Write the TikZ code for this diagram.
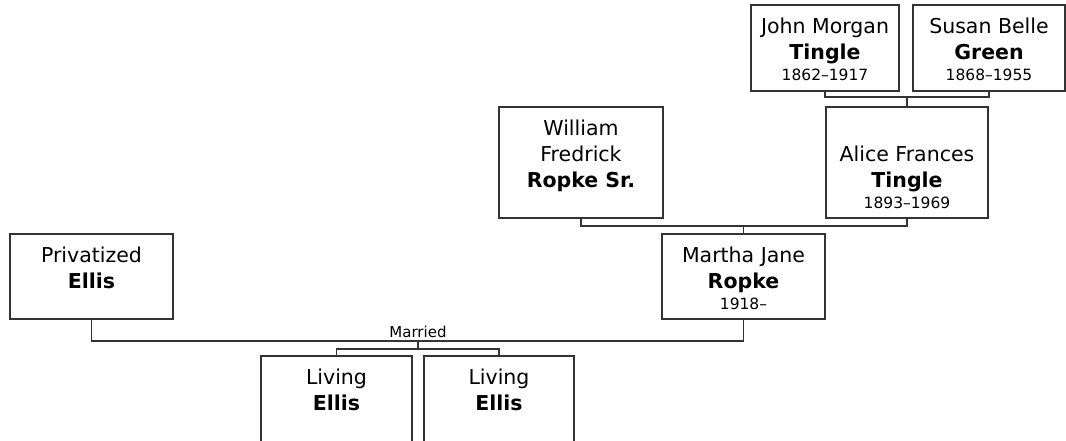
\documentclass[tikz,border=0pt]{standalone}
\usepackage{fontspec}
\setmainfont{DejaVu Sans}
\newcommand{\yrs}[1]{{\fontsize{15.5}{18}\selectfont #1}}

\begin{document}
\begin{tikzpicture}[x=1pt,y=-1pt,person/.style={rectangle,draw=black!80,line width=1.3pt,fill=white,inner sep=0pt},who/.style={anchor=north,align=center,inner sep=0pt,yshift=-13.4pt,font=\fontsize{20.5}{26}\selectfont},link/.style={draw=black!80,line width=1.3pt}]
\useasboundingbox (0,0) rectangle (1066,440);
\clip (0,0) rectangle (1066,440);
\coordinate (JM) at (825,48);
\coordinate (SB) at (989,48);
\coordinate (AF) at (907,162.5);
\coordinate (WF) at (581,162.5);
\coordinate (MJ) at (743.5,276.5);
\coordinate (PE) at (91.5,276.5);
\coordinate (LA) at (336.5,399);
\coordinate (LB) at (499,399);
\node[person,minimum width=148pt,minimum height=86pt] (jm) at (JM) {};
\node[who] (jmname) at (jm.north) {John Morgan\\\textbf{Tingle}\\[-5pt]\yrs{1862–1917}};
\node[person,minimum width=152pt,minimum height=86pt] (sb) at (SB) {};
\node[who] (sbname) at (sb.north) {Susan Belle\\\textbf{Green}\\[-5pt]\yrs{1868–1955}};
\node[person,minimum width=162pt,minimum height=111pt] (af) at (AF) {};
\node[who,yshift=-26pt] (afname) at (af.north) {Alice Frances\\\textbf{Tingle}\\[-5pt]\yrs{1893–1969}};
\node[person,minimum width=164pt,minimum height=111pt] (wf) at (WF) {};
\node[who] (wfname) at (wf.north) {William\\Fredrick\\\textbf{Ropke Sr.}};
\node[person,minimum width=163pt,minimum height=85pt] (mj) at (MJ) {};
\node[who] (mjname) at (mj.north) {Martha Jane\\\textbf{Ropke}\\[-5pt]\yrs{1918–}};
\node[person,minimum width=163pt,minimum height=85pt] (pe) at (PE) {};
\node[who] (pename) at (pe.north) {Privatized\\\textbf{Ellis}};
\node[person,minimum width=151pt,minimum height=86pt] (la) at (LA) {};
\node[who] (laname) at (la.north) {Living\\\textbf{Ellis}};
\node[person,minimum width=150pt,minimum height=86pt] (lb) at (LB) {};
\node[who] (lbname) at (lb.north) {Living\\\textbf{Ellis}};
% parents of Alice
\coordinate (jmsb) at (907,97);
\draw[link] (jm.south) |- (jmsb) -| (sb.south);
\draw[link] (jmsb) -- (af.north);
% parents of Martha
\coordinate (wfaf) at (743.5,226);
\draw[link] (wf.south) |- (wfaf) -| (af.south);
\draw[link] (wfaf) -- (mj.north);
% the couple and children
\coordinate (pemj) at (418,341);
\coordinate (kids) at (418,349);
\draw[link] (pe.south) |- (pemj) -| (mj.south);
\draw[link] (pemj) -- (kids);
\draw[link] (la.north) |- (kids) -| (lb.north);
\node[font=\fontsize{15}{18}\selectfont,anchor=base] (married) at (418,337) {Married};
\end{tikzpicture}
\end{document}
